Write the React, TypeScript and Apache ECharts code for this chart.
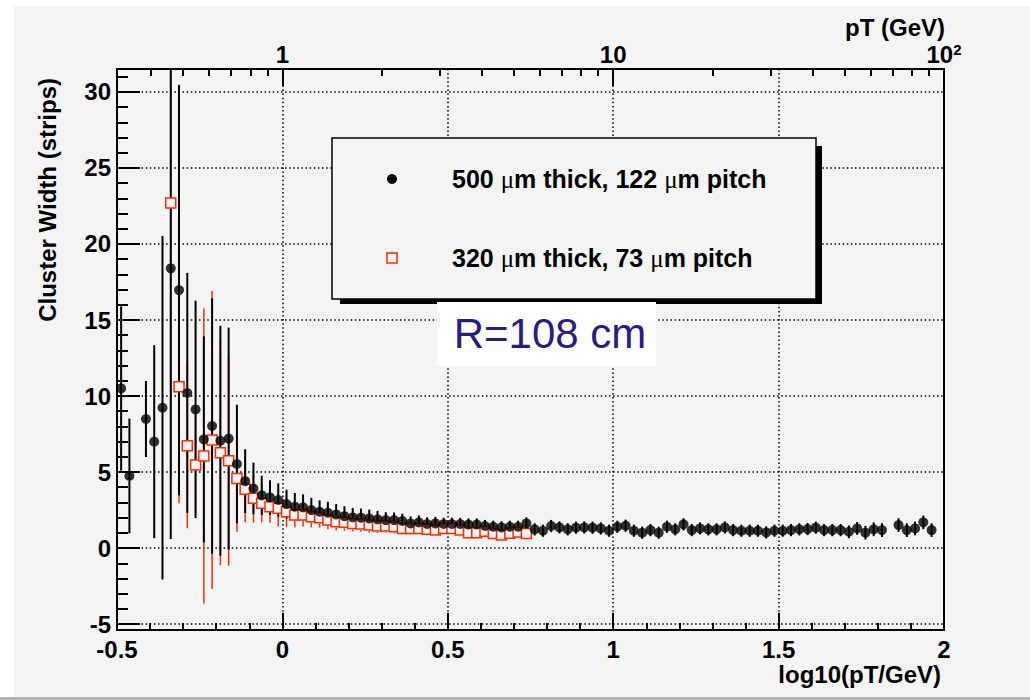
import React, { useEffect, useRef } from "react";
import * as echarts from "echarts";

// log10(pT/GeV) bin centres (bin width 0.025)
const logPtBins = [
  -0.4875, -0.4625, -0.4375, -0.4125, -0.3875, -0.3625, -0.3375, -0.3125, -0.2875, -0.2625,
  -0.2375, -0.2125, -0.1875, -0.1625, -0.1375, -0.1125, -0.0875, -0.0625, -0.0375, -0.0125,
  0.0125, 0.0375, 0.0625, 0.0875, 0.1125, 0.1375, 0.1625, 0.1875, 0.2125, 0.2375,
  0.2625, 0.2875, 0.3125, 0.3375, 0.3625, 0.3875, 0.4125, 0.4375, 0.4625, 0.4875,
  0.5125, 0.5375, 0.5625, 0.5875, 0.6125, 0.6375, 0.6625, 0.6875, 0.7125, 0.7375,
  0.7625, 0.7875, 0.8125, 0.8375, 0.8625, 0.8875, 0.9125, 0.9375, 0.9625, 0.9875,
  1.0125, 1.0375, 1.0625, 1.0875, 1.1125, 1.1375, 1.1625, 1.1875, 1.2125, 1.2375,
  1.2625, 1.2875, 1.3125, 1.3375, 1.3625, 1.3875, 1.4125, 1.4375, 1.4625, 1.4875,
  1.5125, 1.5375, 1.5625, 1.5875, 1.6125, 1.6375, 1.6625, 1.6875, 1.7125, 1.7375,
  1.7625, 1.7875, 1.8125, 1.8375, 1.8625, 1.8875, 1.9125, 1.9375, 1.9625, 1.9875,
];

// 500 um thick, 122 um pitch : cluster width and its error
const thick500Width = [
  10.5, 4.74, null, 8.49, 7.0, 9.23, 18.4, 16.97, 10.2, 9.12,
  7.15, 8.03, 7.06, 7.2, 5.53, 4.4, 3.92, 3.47, 3.33, 3.16,
  2.89, 2.72, 2.68, 2.5, 2.39, 2.32, 2.21, 2.1, 2.02, 2.0,
  1.95, 1.89, 1.84, 1.84, 1.78, 1.62, 1.69, 1.58, 1.62, 1.58,
  1.58, 1.58, 1.55, 1.55, 1.45, 1.4, 1.36, 1.4, 1.4, 1.62,
  1.23, 1.14, 1.45, 1.36, 1.23, 1.34, 1.36, 1.34, 1.29, 1.14,
  1.4, 1.47, 1.14, 1.01, 1.18, 1.01, 1.4, 1.23, 1.56, 1.18,
  1.29, 1.23, 1.23, 1.36, 1.18, 1.14, 1.14, 1.14, 1.03, 1.14,
  1.14, 1.18, 1.23, 1.25, 1.34, 1.18, 1.18, 1.18, 1.07, 1.29,
  1.01, 1.23, 1.18, null, 1.51, 1.18, 1.29, 1.69, 1.18, null,
];
const thick500Err = [
  5.4, 3.78, null, 2.5, 6.35, 11.3, 17.8, 13.5, 7.9, 7.15,
  6.78, 8.4, 7.56, 7.3, 3.9, 2.1, 1.7, 1.29, 1.13, 1.1,
  0.95, 0.9, 0.85, 0.8, 0.75, 0.72, 0.68, 0.65, 0.62, 0.6,
  0.58, 0.55, 0.52, 0.5, 0.48, 0.46, 0.45, 0.44, 0.43, 0.42,
  0.42, 0.41, 0.4, 0.4, 0.4, 0.4, 0.4, 0.4, 0.4, 0.4,
  0.4, 0.4, 0.4, 0.4, 0.4, 0.4, 0.4, 0.4, 0.4, 0.4,
  0.4, 0.4, 0.4, 0.4, 0.4, 0.4, 0.4, 0.4, 0.4, 0.4,
  0.4, 0.4, 0.4, 0.4, 0.4, 0.4, 0.4, 0.4, 0.4, 0.4,
  0.4, 0.4, 0.4, 0.4, 0.4, 0.4, 0.4, 0.4, 0.42, 0.42,
  0.45, 0.45, 0.45, null, 0.45, 0.45, 0.45, 0.45, 0.45, null,
];

// 320 um thick, 73 um pitch : cluster width and its error
const thick320Width = [
  null, null, null, null, null, null, 22.7, 10.61, 6.73, 5.46,
  6.05, 7.1, 6.27, 5.74, 4.58, 3.86, 3.27, 2.94, 2.72, 2.61,
  2.39, 2.17, 2.17, 2.06, 2.0, 1.84, 1.73, 1.69, 1.62, 1.58,
  1.51, 1.45, 1.45, 1.4, 1.29, 1.29, 1.29, 1.23, 1.18, 1.29,
  1.29, 1.18, 1.01, 1.01, 1.1, 0.96, 0.86, 0.98, 1.05, 0.95,
  null, null, null, null, null, null, null, null, null, null,
  null, null, null, null, null, null, null, null, null, null,
  null, null, null, null, null, null, null, null, null, null,
  null, null, null, null, null, null, null, null, null, null,
  null, null, null, null, null, null, null, null, null, null,
];
const thick320Err = [
  null, null, null, null, null, null, 18.0, 7.67, 5.43, 3.3,
  9.7, 9.8, 7.4, 6.9, 3.5, 2.17, 1.6, 1.25, 1.05, 1.2,
  1.0, 0.8, 0.75, 0.7, 0.65, 0.6, 0.58, 0.55, 0.52, 0.5,
  0.48, 0.46, 0.45, 0.44, 0.42, 0.42, 0.4, 0.4, 0.4, 0.4,
  0.4, 0.4, 0.4, 0.4, 0.4, 0.4, 0.4, 0.4, 0.4, 0.4,
  null, null, null, null, null, null, null, null, null, null,
  null, null, null, null, null, null, null, null, null, null,
  null, null, null, null, null, null, null, null, null, null,
  null, null, null, null, null, null, null, null, null, null,
  null, null, null, null, null, null, null, null, null, null,
];

const seriesNames = ["500 \u03bcm thick, 122 \u03bcm pitch", "320 \u03bcm thick, 73 \u03bcm pitch"];
const yMajorTicks = [-5, 0, 5, 10, 15, 20, 25, 30];
const yMinorTicks = [-5, -4, -3, -2, -1, 0, 1, 2, 3, 4, 5, 6, 7, 8, 9, 10, 11, 12, 13, 14, 15, 16, 17, 18, 19, 20, 21, 22, 23, 24, 25, 26, 27, 28, 29, 30, 31];
const ptMajorTicks = [1, 10, 100];
const ptMajorLabels = ["1", "10", "{b|10}{s|2}"];
const ptMinorTicks = [0.4, 0.5, 0.6, 0.7, 0.8, 0.9, 2, 3, 4, 5, 6, 7, 8, 9, 20, 30, 40, 50, 60, 70, 80, 90];

const X_MIN = -0.5;
const X_MAX = 2;
const Y_MIN = -5.39;
const Y_MAX = 31.51;
const FONT = "'Liberation Sans', Arial, Helvetica, sans-serif";
const SERIF = "'Liberation Serif', 'DejaVu Serif', serif";
const RED = "#ff2a00";
const BG = "#f4f4f4";

function build(values: (number | null)[], errs: (number | null)[]) {
  const out: number[][] = [];
  logPtBins.forEach((x, i) => {
    const v = values[i];
    if (v !== null && v !== undefined) out.push([x, v, errs[i] ?? 0]);
  });
  return out;
}

function errRender(color: string, width: number, gap: number) {
  return (_params: any, api: any) => {
    const x = api.value(0);
    const v = api.value(1);
    const e = api.value(2);
    const hi = Math.min(v + e, Y_MAX);
    const lo = Math.max(v - e, Y_MIN);
    const pHi = api.coord([x, hi]);
    const pLo = api.coord([x, lo]);
    const pC = api.coord([x, v]);
    const style = { stroke: color, lineWidth: width };
    const children: any[] = [];
    if (pC[1] - gap > pHi[1]) {
      children.push({ type: "line", shape: { x1: pC[0], y1: pHi[1], x2: pC[0], y2: pC[1] - gap }, style });
    }
    if (pLo[1] > pC[1] + gap) {
      children.push({ type: "line", shape: { x1: pC[0], y1: pC[1] + gap, x2: pC[0], y2: pLo[1] }, style });
    }
    return { type: "group", children };
  };
}

const legendRich = {
  b: { fontFamily: FONT, fontWeight: "bold", fontSize: 25, fill: "#000" },
  m: { fontFamily: SERIF, fontWeight: "normal", fontSize: 25, fill: "#000" },
};
function legendText(name: string) {
  return name
    .split("\u03bc")
    .map((part) => `{b|${part}}`)
    .join("{m|\u03bc}");
}

export default function App() {
  const ref = useRef<HTMLDivElement>(null);

  useEffect(() => {
    if (!ref.current) return;
    const chart = echarts.init(ref.current, undefined, { renderer: "svg" });
    const black = build(thick500Width, thick500Err);
    const red = build(thick320Width, thick320Err);
    const axisLineStyle = { color: "#000", width: 2 };
    const labelStyle = { fontFamily: FONT, fontWeight: "bold" as const, fontSize: 24, color: "#000" };
    const dotted = { color: "#000", width: 1.5, type: [1.5, 2.6] as any };

    chart.setOption({
      animation: false,
      grid: { left: 117, right: 86, top: 69, bottom: 70, show: true, borderColor: "#000", borderWidth: 2, backgroundColor: "transparent" },
      xAxis: [
        {
          type: "value", position: "bottom", min: X_MIN, max: X_MAX, interval: 0.5,
          axisLine: { show: true, onZero: false, lineStyle: axisLineStyle },
          axisTick: { show: true, inside: true, length: 17, lineStyle: axisLineStyle },
          minorTick: { show: true, splitNumber: 5, length: 7, lineStyle: axisLineStyle },
          axisLabel: { ...labelStyle, margin: 7 },
          splitLine: { show: true, lineStyle: dotted },
          minorSplitLine: { show: false },
        },
        {
          type: "value", position: "top", min: X_MIN, max: X_MAX,
          axisLine: { show: true, onZero: false, lineStyle: axisLineStyle },
          axisTick: { show: true, inside: true, length: 17, lineStyle: axisLineStyle, customValues: ptMajorTicks.map((p) => Math.log10(p)) },
          axisLabel: {
            ...labelStyle, margin: 3,
            customValues: ptMajorTicks.map((p) => Math.log10(p)),
            formatter: (v: number) => ptMajorLabels[Math.round(v)],
            rich: {
              b: { fontFamily: FONT, fontWeight: "bold", fontSize: 24, color: "#000" },
              s: { fontFamily: FONT, fontWeight: "bold", fontSize: 15, color: "#000", verticalAlign: "top" },
            },
          },
          splitLine: { show: false },
        },
        {
          type: "value", position: "top", min: X_MIN, max: X_MAX,
          axisLine: { show: false, onZero: false },
          axisTick: { show: true, inside: true, length: 7, lineStyle: axisLineStyle, customValues: ptMinorTicks.map((p) => Math.log10(p)) },
          axisLabel: { show: false },
          splitLine: { show: false },
        },
      ],
      yAxis: [
        {
          type: "value", position: "left", min: Y_MIN, max: Y_MAX,
          axisLine: { show: true, onZero: false, lineStyle: axisLineStyle },
          axisTick: { show: true, inside: true, length: 23, lineStyle: axisLineStyle, customValues: yMajorTicks },
          axisLabel: { ...labelStyle, margin: 6, customValues: yMajorTicks },
          splitLine: { show: true, lineStyle: dotted },
        },
        {
          type: "value", position: "left", min: Y_MIN, max: Y_MAX,
          axisLine: { show: false, onZero: false },
          axisTick: { show: true, inside: true, length: 11, lineStyle: axisLineStyle, customValues: yMinorTicks },
          axisLabel: { show: false },
          splitLine: { show: false },
        },
      ],
      series: [
        {
          type: "custom", name: seriesNames[1] + " errors", xAxisIndex: 0, yAxisIndex: 0, z: 2,
          data: red, encode: { x: 0, y: 1 }, renderItem: errRender(RED, 1.5, 6), silent: true,
        },
        {
          type: "custom", name: seriesNames[0] + " errors", xAxisIndex: 0, yAxisIndex: 0, z: 3,
          data: black, encode: { x: 0, y: 1 }, renderItem: errRender("#000", 2, 0), silent: true,
        },
        {
          type: "scatter", name: seriesNames[1], xAxisIndex: 0, yAxisIndex: 0, z: 4,
          data: red.map((d) => [d[0], d[1]]), symbol: "rect", symbolSize: 10,
          itemStyle: { color: BG, borderColor: RED, borderWidth: 1.5, opacity: 1 },
        },
        {
          type: "scatter", name: seriesNames[0], xAxisIndex: 0, yAxisIndex: 0, z: 5,
          data: black.map((d) => [d[0], d[1]]), symbol: "circle", symbolSize: 10,
          itemStyle: { color: "#000" },
        },
      ],
      graphic: [
        { type: "rect", z: 100, shape: { x: 340, y: 146, width: 482, height: 158 }, style: { fill: "#000" } },
        { type: "rect", z: 101, shape: { x: 332, y: 138, width: 484, height: 161 }, style: { fill: BG, stroke: "#000", lineWidth: 1.5 } },
        { type: "circle", z: 102, shape: { cx: 392, cy: 179, r: 5 }, style: { fill: "#000" } },
        { type: "rect", z: 102, shape: { x: 387, y: 253, width: 10, height: 10 }, style: { fill: "none", stroke: RED, lineWidth: 1.5 } },
        { type: "text", z: 102, x: 452, y: 179, style: { text: legendText(seriesNames[0]), rich: legendRich, fontFamily: FONT, fontWeight: "bold", fontSize: 25, fill: "#000", align: "left", verticalAlign: "middle" } },
        { type: "text", z: 102, x: 452, y: 258, style: { text: legendText(seriesNames[1]), rich: legendRich, fontFamily: FONT, fontWeight: "bold", fontSize: 25, fill: "#000", align: "left", verticalAlign: "middle" } },
        { type: "rect", z: 100, shape: { x: 437, y: 302, width: 219, height: 64 }, style: { fill: "#ffffff" } },
        { type: "text", z: 102, x: 550, y: 333, style: { text: "R=108 cm", fontFamily: FONT, fontSize: 42, fill: "#2b1b80", align: "center", verticalAlign: "middle" } },
        { type: "text", z: 102, x: 945, y: 27, style: { text: "pT (GeV)", fontFamily: FONT, fontWeight: "bold", fontSize: 24, fill: "#000", align: "right", verticalAlign: "middle" } },
        { type: "text", z: 102, x: 941, y: 674, style: { text: "log10(pT/GeV)", fontFamily: FONT, fontWeight: "bold", fontSize: 24, fill: "#000", align: "right", verticalAlign: "middle" } },
        { type: "text", z: 102, x: 47, y: 78, rotation: Math.PI / 2, style: { text: "Cluster Width (strips)", fontFamily: FONT, fontWeight: "bold", fontSize: 24, fill: "#000", align: "right", verticalAlign: "middle" } },
      ],
    });
    return () => chart.dispose();
  }, []);

  return (
    <div style={{ position: "fixed", left: 0, top: 0, width: 1030, height: 700, background: "#ffffff", overflow: "hidden" }}>
      <div style={{ position: "absolute", left: 14, top: 6, width: 1016, height: 691, background: BG }} />
      <div style={{ position: "absolute", left: 0, top: 697, width: 1030, height: 3, background: "#b4b4b4" }} />
      <div ref={ref} style={{ position: "absolute", left: 0, top: 0, width: 1030, height: 700 }} />
    </div>
  );
}
